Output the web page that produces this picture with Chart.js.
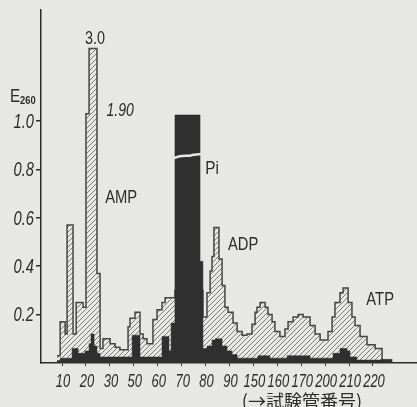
<!DOCTYPE html>
<html>
<head>
<meta charset="utf-8">
<script src="https://cdn.jsdelivr.net/npm/chart.js@4"></script>
<style>
  body { margin: 0; background: #e7e7e5; }
  #wrap { width: 417px; height: 407px; }
</style>
</head>
<body>
<div id="wrap"><canvas id="chart" width="417" height="407"></canvas></div>
<script>
// x tick labels (tube numbers, axis is broken between groups)
const tickLabels = ['10', '20', '30', '50', '60', '70', '80', '90', '150', '160', '170', '200', '210', '220'];
const yTickValues = [0.2, 0.4, 0.6, 0.8, 1.0];

// total E260 (hatched) - step edges in tick positions, value holds until next edge
const hatchEdges = [-0.21, -0.08, 0.13, 0.21, 0.46, 0.59, 0.88, 1.00, 1.13, 1.46, 1.59, 1.71, 2.01, 2.22, 2.42,
    2.76, 2.84, 3.05, 3.26, 3.39, 3.55, 3.80, 3.97, 4.18, 4.31, 4.72, 5.89, 6.06, 6.19, 6.27, 6.35, 6.56, 6.69,
    6.81, 6.94, 7.15, 7.32, 7.53, 7.73, 7.94, 8.07, 8.15, 8.28, 8.49, 8.61, 8.78, 8.90, 9.11, 9.32, 9.45, 9.66,
    9.87, 10.08, 10.37, 10.58, 10.79, 11.12, 11.29, 11.41, 11.62, 11.75, 11.96, 12.12, 12.25, 12.46, 12.75, 13.09, 13.38];
const hatchValues = [0.03, 0.17, 0.12, 0.57, 0.12, 0.25, 0.23, 1.03, 1.30, 0.37, 0.06, 0.10, 0.08, 0.065, 0.055,
    0.15, 0.185, 0.21, 0.12, 0.10, 0.08, 0.18, 0.22, 0.25, 0.27, 0.30, 0.19, 0.29, 0.38, 0.44, 0.56, 0.43, 0.32,
    0.23, 0.21, 0.165, 0.13, 0.115, 0.12, 0.16, 0.21, 0.23, 0.25, 0.23, 0.20, 0.17, 0.13, 0.11, 0.14, 0.17, 0.19,
    0.20, 0.19, 0.155, 0.12, 0.095, 0.13, 0.19, 0.25, 0.29, 0.31, 0.25, 0.19, 0.155, 0.11, 0.075, 0.06, 0];

// phosphate (dark) - same layout
const darkEdges = [-0.21, -0.08, 0.42, 0.67, 0.96, 1.13, 1.21, 1.34, 1.46, 1.59, 2.93, 3.26, 4.18, 4.47, 4.56,
    4.72, 5.77, 5.89, 6.06, 6.27, 6.40, 6.69, 6.90, 7.11, 7.32, 8.19, 8.69, 9.41, 10.37, 11.33, 11.62, 11.92,
    12.04, 12.33, 13.38, 13.80];
const darkValues = [0.01, 0.02, 0.06, 0.04, 0.05, 0.08, 0.12, 0.07, 0.04, 0.025, 0.115, 0.025, 0.11, 0.05, 0.165,
    1.025, 0.42, 0.06, 0.07, 0.095, 0.10, 0.07, 0.05, 0.035, 0.02, 0.03, 0.02, 0.03, 0.02, 0.04, 0.06, 0.05,
    0.025, 0.012, 0.015, 0];

const ink = '#2c2c2c';
const paper = '#e7e7e5';
const sans = "'Liberation Sans', 'DejaVu Sans', sans-serif";

function toPoints(edges, values) {
    return edges.map((x, i) => ({ x: x, y: values[i] }));
}

function makeHatch() {
    const c = document.createElement('canvas');
    c.width = 5; c.height = 5;
    const g = c.getContext('2d');
    g.fillStyle = paper;
    g.fillRect(0, 0, 5, 5);
    g.strokeStyle = '#6e6e6e';
    g.lineWidth = 0.9;
    g.beginPath();
    g.moveTo(0, 5); g.lineTo(5, 0);
    g.moveTo(-1, 1); g.lineTo(1, -1);
    g.moveTo(4, 6); g.lineTo(6, 4);
    g.stroke();
    return g.createPattern(c, 'repeat');
}

// text squeezed horizontally, like the condensed type of the print
function squeezed(ctx, txt, x, y, font, sx, align) {
    ctx.save();
    ctx.translate(x, y);
    ctx.scale(sx, 1);
    ctx.font = font;
    ctx.textAlign = align || 'center';
    ctx.textBaseline = 'middle';
    ctx.fillText(txt, 0, 0);
    ctx.restore();
}

// tick labels, labels, break mark and axis captions
const textPlugin = {
    id: 'texts',
    afterDraw(chart) {
        const ctx = chart.ctx;
        const xs = chart.scales.x, ys = chart.scales.y;
        const area = chart.chartArea;
        ctx.save();

        // break mark across the Pi column
        const bx1 = xs.getPixelForValue(4.72), bx2 = xs.getPixelForValue(5.77);
        const by = ys.getPixelForValue(0.855);
        ctx.strokeStyle = paper;
        ctx.lineWidth = 2.5;
        ctx.beginPath();
        ctx.moveTo(bx1 - 1, by + 2);
        ctx.bezierCurveTo(bx1 + 8, by - 2, bx1 + 12, by + 1, bx2 - 8, by - 1);
        ctx.lineTo(bx2 + 1, by - 2);
        ctx.stroke();

        ctx.fillStyle = ink;
        tickLabels.forEach((t, i) => {
            squeezed(ctx, t, xs.getPixelForValue(i) + 1, area.bottom + 19, 'italic 18px ' + sans, 0.72);
        });
        yTickValues.forEach(v => {
            squeezed(ctx, v.toFixed(1), area.left - 7, ys.getPixelForValue(v) + 1, 'italic 21px ' + sans, 0.7, 'right');
        });

        const put = (txt, x, y, font, sx) => {
            squeezed(ctx, txt, xs.getPixelForValue(x), ys.getPixelForValue(y), font, sx);
        };
        put('3.0', 1.38, 1.34, '18px ' + sans, 0.8);
        put('1.90', 2.43, 1.041, 'italic 18px ' + sans, 0.78);
        put('AMP', 2.47, 0.682, '18px ' + sans, 0.82);
        put('Pi', 6.27, 0.802, '18px ' + sans, 0.85);
        put('ADP', 7.57, 0.488, '18px ' + sans, 0.82);
        put('ATP', 13.3, 0.260, '18px ' + sans, 0.82);

        // y caption E260
        const ey = ys.getPixelForValue(1.097);
        squeezed(ctx, 'E', area.left - 31, ey, '18px ' + sans, 0.85, 'left');
        squeezed(ctx, '260', area.left - 21, ey + 3, 'bold 11px ' + sans, 0.85, 'left');

        // x caption
        ctx.textAlign = 'center';
        ctx.textBaseline = 'middle';
        ctx.font = "18px 'Noto Sans CJK JP', sans-serif";
        ctx.fillText('(→試験管番号)', xs.getPixelForValue(10.03), area.bottom + 38);
        ctx.restore();
    }
};

const chart = new Chart(document.getElementById('chart'), {
    type: 'line',
    data: {
        datasets: [
            {
                label: 'Pi',
                data: toPoints(darkEdges, darkValues),
                stepped: true,
                fill: 'origin',
                backgroundColor: '#2f2f2f',
                borderColor: '#2f2f2f',
                borderWidth: 0.5,
                pointRadius: 0
            },
            {
                label: 'E260',
                data: toPoints(hatchEdges, hatchValues),
                stepped: true,
                fill: 'origin',
                backgroundColor: makeHatch(),
                borderColor: '#454545',
                borderWidth: 1.5,
                pointRadius: 0
            }
        ]
    },
    options: {
        responsive: false,
        animation: false,
        layout: { padding: { top: 10, right: 0, left: 0, bottom: 0 } },
        plugins: { legend: { display: false }, tooltip: { enabled: false } },
        scales: {
            x: {
                type: 'linear',
                min: -0.88,
                max: 14.84,
                afterBuildTicks: axis => { axis.ticks = tickLabels.map((t, i) => ({ value: i })); },
                afterFit: axis => { axis.height = 44; },
                ticks: { display: false },
                grid: { drawOnChartArea: false, tickLength: 3, color: ink },
                border: { color: ink, width: 1.5 }
            },
            y: {
                type: 'linear',
                min: 0,
                max: 1.4587,
                afterBuildTicks: axis => { axis.ticks = yTickValues.map(v => ({ value: v })); },
                afterFit: axis => { axis.width = 41; },
                ticks: { display: false },
                grid: { drawOnChartArea: false, tickLength: 5, color: ink, lineWidth: 1.5 },
                border: { color: ink, width: 1.5 }
            }
        }
    },
    plugins: [textPlugin]
});
</script>
</body>
</html>
